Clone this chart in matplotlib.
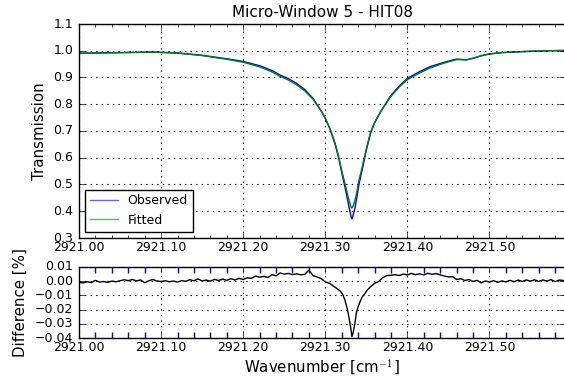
import numpy as np
import matplotlib
matplotlib.use("Agg")
import matplotlib.pyplot as plt
from matplotlib.ticker import MultipleLocator, FormatStrFormatter, FuncFormatter

# ── data ────────────────────────────────────────────────────────────────────
wn_trans = [2921.000, 2921.030, 2921.060, 2921.090, 2921.120, 2921.150,
            2921.180, 2921.200, 2921.220, 2921.235, 2921.245, 2921.255,
            2921.265, 2921.275, 2921.285, 2921.295, 2921.300, 2921.306,
            2921.312, 2921.316, 2921.320, 2921.324, 2921.328, 2921.3315,
            2921.3325, 2921.334, 2921.336, 2921.338, 2921.341, 2921.345,
            2921.350, 2921.355, 2921.360, 2921.367, 2921.379, 2921.390,
            2921.400, 2921.415, 2921.428, 2921.445, 2921.460, 2921.472,
            2921.480, 2921.490, 2921.500, 2921.515, 2921.530, 2921.550,
            2921.570, 2921.592]
observed = [0.990, 0.992, 0.994, 0.995, 0.992, 0.983,
            0.970, 0.960, 0.944, 0.926, 0.909, 0.896,
            0.878, 0.855, 0.822, 0.775, 0.748, 0.705,
            0.650, 0.603, 0.545, 0.490, 0.430, 0.378,
            0.372, 0.385, 0.410, 0.443, 0.500, 0.556,
            0.628, 0.690, 0.730, 0.770, 0.829, 0.868,
            0.897, 0.922, 0.941, 0.957, 0.969, 0.966,
            0.972, 0.981, 0.988, 0.993, 0.995, 0.998,
            1.000, 1.001]
fitted = [0.991, 0.992, 0.993, 0.995, 0.991, 0.982,
          0.968, 0.957, 0.940, 0.921, 0.904, 0.891,
          0.873, 0.850, 0.819, 0.775, 0.748, 0.707,
          0.654, 0.609, 0.553, 0.503, 0.452, 0.414,
          0.412, 0.420, 0.440, 0.465, 0.515, 0.566,
          0.634, 0.694, 0.732, 0.770, 0.826, 0.864,
          0.892, 0.917, 0.936, 0.954, 0.967, 0.966,
          0.972, 0.982, 0.988, 0.993, 0.996, 0.998,
          1.000, 1.001]

wn_diff = [2921.000, 2921.005, 2921.010, 2921.015, 2921.020, 2921.025,
           2921.030, 2921.035, 2921.040, 2921.045, 2921.050, 2921.055,
           2921.060, 2921.065, 2921.070, 2921.075, 2921.080, 2921.085,
           2921.090, 2921.095, 2921.100, 2921.105, 2921.110, 2921.115,
           2921.120, 2921.125, 2921.130, 2921.135, 2921.140, 2921.145,
           2921.150, 2921.155, 2921.160, 2921.165, 2921.170, 2921.175,
           2921.180, 2921.185, 2921.190, 2921.195, 2921.200, 2921.205,
           2921.210, 2921.215, 2921.220, 2921.225, 2921.230, 2921.235,
           2921.240, 2921.245, 2921.250, 2921.255, 2921.260, 2921.265,
           2921.270, 2921.275, 2921.280, 2921.285, 2921.290, 2921.295,
           2921.300, 2921.305, 2921.310, 2921.315, 2921.318, 2921.321,
           2921.324, 2921.327, 2921.329, 2921.331, 2921.3325, 2921.334,
           2921.336, 2921.338, 2921.340, 2921.342, 2921.345, 2921.348,
           2921.351, 2921.355, 2921.360, 2921.365, 2921.370, 2921.375,
           2921.380, 2921.385, 2921.390, 2921.395, 2921.400, 2921.405,
           2921.410, 2921.415, 2921.420, 2921.425, 2921.430, 2921.435,
           2921.440, 2921.445, 2921.450, 2921.455, 2921.460, 2921.465,
           2921.470, 2921.475, 2921.480, 2921.485, 2921.490, 2921.495,
           2921.500, 2921.505, 2921.510, 2921.515, 2921.520, 2921.525,
           2921.530, 2921.535, 2921.540, 2921.545, 2921.550, 2921.555,
           2921.560, 2921.565, 2921.570, 2921.575, 2921.580, 2921.585,
           2921.592]
difference = [-0.0008, -0.0012, -0.0004, -0.0010, 0.0006, -0.0006,
              -0.0002, -0.0009, 0.0001, -0.0004, 0.0003, 0.0010,
              0.0004, 0.0012, 0.0002, 0.0009, -0.0011, 0.0003,
              0.0012, 0.0001, -0.0002, 0.0003, -0.0004, 0.0001,
              -0.0006, 0.0004, -0.0001, 0.0011, 0.0003, 0.0016,
              0.0002, 0.0008, 0.0000, 0.0013, 0.0005, 0.0015,
              0.0006, 0.0018, 0.0008, 0.0020, 0.0012, 0.0024,
              0.0020, 0.0036, 0.0028, 0.0034, 0.0026, 0.0046,
              0.0038, 0.0058, 0.0050, 0.0055, 0.0046, 0.0052,
              0.0045, 0.0048, 0.0078, 0.0040, 0.0030, 0.0018,
              -0.0004, -0.0015, -0.0035, -0.0055, -0.0068, -0.0090,
              -0.0134, -0.0200, -0.0260, -0.0330, -0.0390, -0.0360,
              -0.0300, -0.0220, -0.0180, -0.0150, -0.0110, -0.0090,
              -0.0063, -0.0040, -0.0015, -0.0002, 0.0025, 0.0040,
              0.0042, 0.0046, 0.0040, 0.0050, 0.0044, 0.0055,
              0.0046, 0.0052, 0.0044, 0.0056, 0.0048, 0.0054,
              0.0045, 0.0036, 0.0030, 0.0032, 0.0012, 0.0018,
              0.0005, 0.0012, -0.0002, 0.0006, -0.0012, 0.0002,
              -0.0006, 0.0004, -0.0008, 0.0002, -0.0005, 0.0006,
              -0.0004, 0.0008, -0.0002, 0.0009, 0.0000, 0.0010,
              -0.0002, 0.0009, 0.0001, 0.0011, -0.0003, 0.0008,
              0.0004]

# ── figure ──────────────────────────────────────────────────────────────────
plt.style.use("classic")
plt.rcParams["font.family"] = "DejaVu Sans"
plt.rcParams["font.size"] = 9

W, H = 564, 379
XMIN, XMAX = 2921.0, 2921.592
fig = plt.figure(figsize=(W / 100, H / 100), dpi=100, facecolor="white")
ax1 = fig.add_axes([79 / W, 1 - 238 / H, 486 / W, 214 / H])
ax2 = fig.add_axes([79 / W, 1 - 338 / H, 486 / W, 71 / H])

ax1.plot(wn_trans, observed, color="b", lw=1.0, label="Observed")
ax1.plot(wn_trans, fitted, color="g", lw=1.0, label="Fitted")
ax1.set_xlim(XMIN, XMAX)
ax1.set_ylim(0.3, 1.1)
ax1.yaxis.set_major_locator(MultipleLocator(0.1))
ax1.yaxis.set_major_formatter(FormatStrFormatter("%.1f"))
ax1.set_ylabel("Transmission", fontsize=10.8)
ax1.set_title("Micro-Window 5 - HIT08", fontsize=11)
leg = ax1.legend(loc="lower left", fontsize=9, numpoints=1,
                 borderaxespad=0.5, handlelength=2.2)
leg.get_frame().set_linewidth(1.0)
for line in leg.get_lines():
    line.set_alpha(0.6)

ax2.plot(wn_diff, difference, color="k", lw=1.0)
ax2.set_xlim(XMIN, XMAX)
ax2.set_ylim(-0.04, 0.01)
ax2.yaxis.set_major_locator(MultipleLocator(0.01))
ax2.yaxis.set_major_formatter(
    FuncFormatter(lambda v, p: f"{v:.2f}".replace("-", "\u2212")))
ax2.set_ylabel("Difference [%]", fontsize=10.8)
ax2.set_xlabel("Wavenumber [cm$^{-1}$]", fontsize=10.8, labelpad=3)

for ax in (ax1, ax2):
    ax.xaxis.set_major_locator(MultipleLocator(0.1))
    ax.xaxis.set_minor_locator(MultipleLocator(0.02))
    ax.xaxis.set_major_formatter(FormatStrFormatter("%.2f"))
    ax.grid(True, which="major", color="k", linestyle=":", linewidth=0.8)
    ax.tick_params(labelsize=9, direction="in")
    ax.tick_params(axis="x", pad=2)

ax1.tick_params(axis="x", which="minor", length=2.5)
ax2.tick_params(axis="x", which="minor", length=4, color="b", width=1.0)

fig.savefig("out.png", dpi=100, facecolor="white")
